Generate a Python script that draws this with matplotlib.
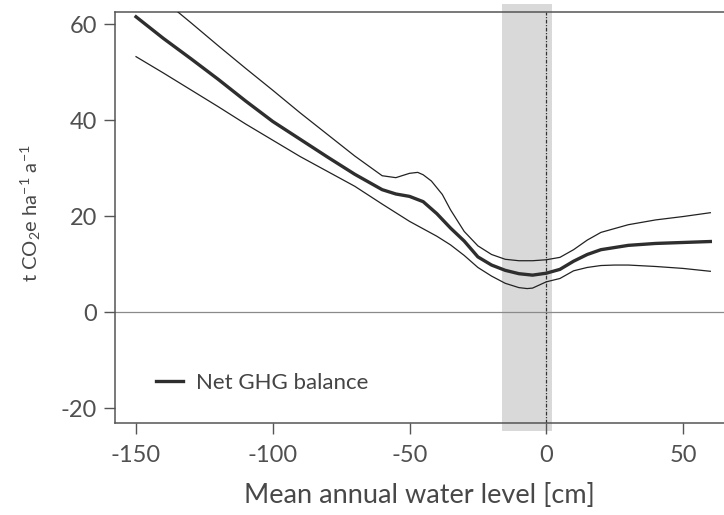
import matplotlib
matplotlib.use("Agg")
import matplotlib.pyplot as plt

plt.rcParams['font.family'] = ['Lato', 'DejaVu Sans']
plt.rcParams['mathtext.fontset'] = 'custom'
plt.rcParams['mathtext.rm'] = 'Lato'
plt.rcParams['mathtext.it'] = 'Lato'
plt.rcParams['axes.unicode_minus'] = False

# water level [cm]
main_x = [-150, -140, -130, -120, -110, -100, -90, -80, -70, -60, -55, -50, -45, -40,
          -35, -30, -25, -20, -15, -10, -5, 0, 5, 10, 15, 20, 30, 40, 50, 60]
main_y = [61.5, 57.0, 52.8, 48.5, 44.0, 39.7, 36.0, 32.3, 28.7, 25.5, 24.6, 24.1, 23.0, 20.5,
          17.5, 14.8, 11.5, 9.8, 8.7, 8.0, 7.7, 8.1, 8.9, 10.6, 12.0, 13.0, 13.9, 14.3, 14.5, 14.7]

upper_x = [-150, -140, -130, -120, -110, -100, -90, -80, -70, -60, -55, -50, -47, -45,
           -42, -38, -35, -30, -25, -20, -15, -10, -5, 0, 5, 10, 15, 20, 30, 40, 50, 60]
upper_y = [69.5, 65.0, 60.3, 55.5, 50.8, 46.2, 41.5, 37.0, 32.5, 28.4, 28.0, 28.9, 29.1, 28.6,
           27.3, 24.5, 21.3, 16.8, 13.8, 12.0, 11.0, 10.7, 10.7, 10.9, 11.4, 13.0, 15.0, 16.6,
           18.2, 19.2, 19.9, 20.7]

lower_x = [-150, -140, -130, -120, -110, -100, -90, -80, -70, -60, -50, -40, -35, -30,
           -25, -20, -15, -10, -7, -5, 0, 5, 10, 15, 20, 25, 30, 40, 50, 60]
lower_y = [53.2, 49.8, 46.3, 42.8, 39.2, 35.8, 32.4, 29.3, 26.2, 22.5, 18.9, 15.8, 14.0, 11.8,
           9.3, 7.5, 6.0, 5.1, 4.9, 5.0, 6.3, 7.0, 8.6, 9.3, 9.7, 9.8, 9.8, 9.5, 9.1, 8.5]

band = (-16, 2)

fig = plt.figure(figsize=(7.24, 5.15), dpi=100)
ax = fig.add_axes([0.1588, 0.1786, 0.8412, 0.7981])

ax.axvspan(band[0], band[1], ymin=-0.02, ymax=1.02, color='#d9d9d9', lw=0, zorder=0, clip_on=False)
ax.axhline(0, color='#8a8a8a', lw=0.9, zorder=1)
ax.axvline(0, color='#333333', lw=0.9, ls=(0, (3, 1.2, 1, 1.2)), zorder=1)

ax.plot(upper_x, upper_y, color='#222222', lw=0.9, zorder=3)
ax.plot(lower_x, lower_y, color='#222222', lw=0.9, zorder=3)
ax.plot(main_x, main_y, color='#2e2e2e', lw=2.4, zorder=4, label='Net GHG balance')

ax.set_xlim(-157.7, 65)
ax.set_ylim(-23.1, 62.5)
ax.set_xticks([-150, -100, -50, 0, 50])
ax.set_yticks([-20, 0, 20, 40, 60])

for side in ['left', 'bottom', 'top']:
    ax.spines[side].set_color('#555555')
    ax.spines[side].set_linewidth(1.1)
ax.spines['right'].set_visible(False)
ax.tick_params(axis='both', direction='out', length=8, width=1, color='#555555',
               labelsize=17, labelcolor='#505050')
ax.tick_params(axis='x', pad=8)
ax.tick_params(axis='y', pad=5)

ax.set_xlabel('Mean annual water level [cm]', fontsize=19.5, color='#484848', labelpad=12)
ax.set_ylabel('t CO$_2$e ha$^{-1}$ a$^{-1}$', fontsize=14.5, color='#484848')
ax.yaxis.set_label_coords(-0.118, 0.51)

ax.legend(loc='lower left', bbox_to_anchor=(0.035, 0.025), frameon=False, fontsize=16,
          handlelength=1.2, handletextpad=0.6, labelcolor='#444444')

fig.savefig('out.png', dpi=100)
